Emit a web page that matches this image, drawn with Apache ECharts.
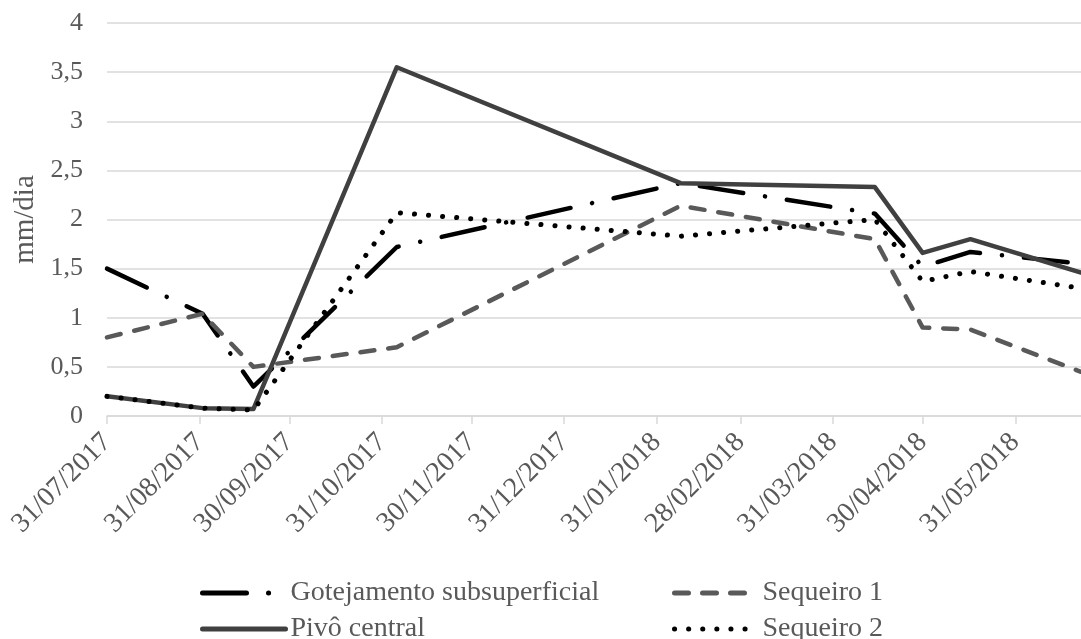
<!DOCTYPE html>
<html><head><meta charset="utf-8">
<script src="https://cdn.jsdelivr.net/npm/echarts@6/dist/echarts.min.js"></script>
<style>html,body{margin:0;padding:0;background:#fff}#c{width:1081px;height:639px}</style>
</head><body><div id="c"></div>
<script>
const dates = ['2017-07-31','2017-09-01','2017-09-18','2017-11-05','2018-02-08','2018-04-14','2018-04-30','2018-05-16','2018-06-22'];
const gotejamento = [1.50,1.04,0.30,1.72,2.37,2.06,1.52,1.67,1.55];
const sequeiro1 = [0.80,1.04,0.50,0.70,2.14,1.80,0.90,0.88,0.45];
const pivo = [0.20,0.08,0.07,3.55,2.37,2.33,1.66,1.80,1.46];
const sequeiro2 = [0.20,0.08,0.06,2.07,1.83,2.00,1.37,1.47,1.30];
const tickDates = ['2017-07-31','2017-08-31','2017-09-30','2017-10-31','2017-11-30','2017-12-31','2018-01-31','2018-02-28','2018-03-31','2018-04-30','2018-05-31'];
const axisStart = '2017-07-31';
const axisEnd = '2018-06-22';
const yTickLabels = ['0','0,5','1','1,5','2','2,5','3','3,5','4'];
const seriesNames = ['Gotejamento subsuperficial','Sequeiro 1','Pivô central','Sequeiro 2'];

const DAY = 86400000;
function ts(s){const p=s.split('-').map(Number);return Date.UTC(p[0],p[1]-1,p[2])/DAY;}
function fmt(v){const d=new Date(Math.round(v)*DAY);const p=n=>String(n).padStart(2,'0');return p(d.getUTCDate())+'/'+p(d.getUTCMonth()+1)+'/'+d.getUTCFullYear();}
function pairs(vals){return dates.map((d,i)=>[ts(d),vals[i]]);}

const FONT='Liberation Serif';
const TXT='#595959';
const GRID='#d9d9d9';

function leg(name, left, top){
  return {left:left, top:top, padding:0, orient:'horizontal', itemWidth:83, itemHeight:14, itemGap:10,
    data:[name], selectedMode:false,
    itemStyle:{opacity:0, borderWidth:0},
    textStyle:{fontFamily:FONT, fontSize:28, color:TXT}, lineStyle:{width:5}};
}

const chart = echarts.init(document.getElementById('c'), null, {renderer:'canvas'});
chart.setOption({
  animation:false,
  backgroundColor:'#fff',
  grid:{left:107, right:0, top:23, bottom:223, containLabel:false},
  xAxis:{
    type:'value', min:ts(axisStart), max:ts(axisEnd),
    axisLine:{show:true, lineStyle:{color:GRID, width:1.5}},
    axisTick:{show:true, customValues:tickDates.map(ts), length:8, lineStyle:{color:GRID, width:1.5}},
    axisLabel:{customValues:tickDates.map(ts), formatter:fmt, rotate:45, margin:22,
      fontFamily:FONT, fontSize:28, color:TXT},
    splitLine:{show:false}
  },
  yAxis:{
    type:'value', min:0, max:4, interval:0.5,
    name:'mm/dia', nameLocation:'middle', nameGap:72, nameRotate:90, nameMoveOverlap:false,
    nameTextStyle:{fontFamily:FONT, fontSize:29, lineHeight:20, color:TXT},
    axisLine:{show:false}, axisTick:{show:false},
    axisLabel:{formatter:v=>yTickLabels[Math.round(v/0.5)], margin:24, fontFamily:FONT, fontSize:26, color:TXT},
    splitLine:{lineStyle:{color:GRID, width:1.5}}
  },
  legend:[
    leg(seriesNames[0], 200, 579),
    leg(seriesNames[2], 200, 615),
    leg(seriesNames[1], 672, 579),
    leg(seriesNames[3], 672, 615)
  ],
  series:[
    {name:seriesNames[0], type:'line', symbol:'none', data:pairs(gotejamento),
     lineStyle:{color:'#000', width:4.5, type:[44,22,0.1,22], cap:'round', join:'round'}, itemStyle:{color:'#000'}},
    {name:seriesNames[1], type:'line', symbol:'none', data:pairs(sequeiro1),
     lineStyle:{color:'#595959', width:4.5, type:[14,14], cap:'round', join:'round'}, itemStyle:{color:'#595959'}},
    {name:seriesNames[2], type:'line', symbol:'none', data:pairs(pivo),
     lineStyle:{color:'#404040', width:4.5, type:'solid', cap:'round', join:'round'}, itemStyle:{color:'#404040'}},
    {name:seriesNames[3], type:'line', symbol:'none', data:pairs(sequeiro2),
     lineStyle:{color:'#000', width:5, type:[0.1,14], cap:'round', join:'round'}, itemStyle:{color:'#000'}}
  ]
});
</script></body></html>
